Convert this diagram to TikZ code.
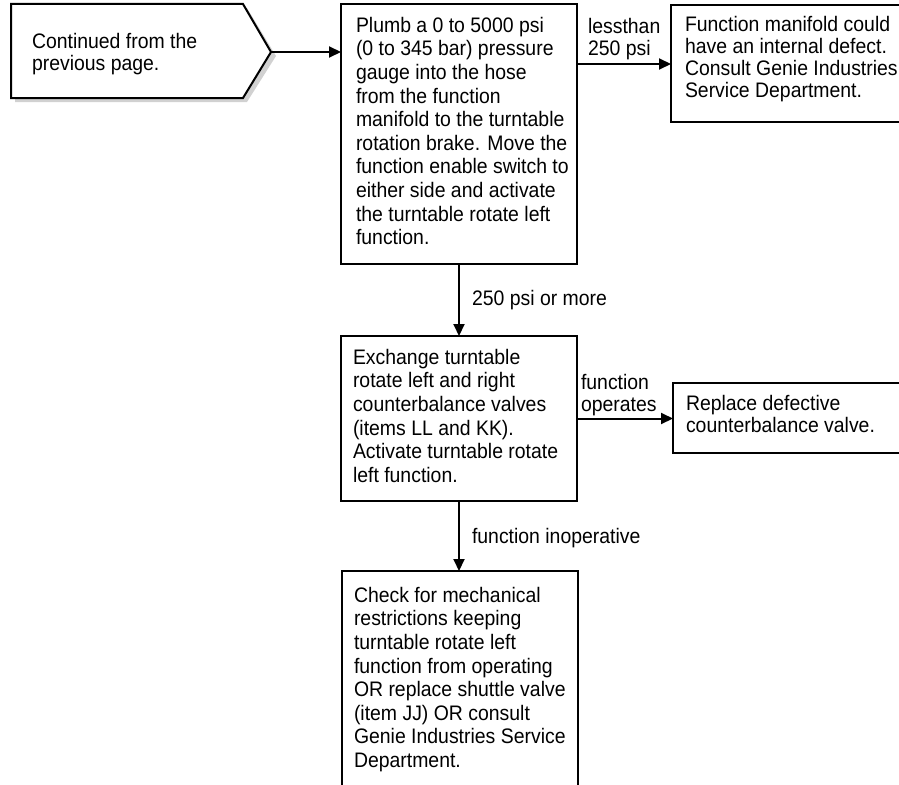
\documentclass[tikz,border=0pt]{standalone}
\usepackage{fontspec}
\setmainfont{Liberation Sans}[FakeStretch=0.925]
\usetikzlibrary{arrows.meta}
\begin{document}
\begin{tikzpicture}[x=1pt,y=-1pt,
  box/.style={draw=black, fill=white, line width=2pt, inner sep=0pt, outer sep=0pt, anchor=north west},
  txt/.style={inner sep=0pt, outer sep=0pt, align=left, font=\fontsize{21}{23.6}\selectfont},
  stxt/.style={inner sep=0pt, outer sep=0pt, align=left, font=\fontsize{21}{22}\selectfont},
  arr/.style={line width=2pt, -{Triangle[length=12pt,width=11pt]}}
]
\clip (0,0) rectangle (899,784);
\useasboundingbox (0,0) rectangle (899,784);

% start pentagon with shadow
\fill[black!18] (15,8) -- (247,8) -- (276,56) -- (247,102) -- (15,102) -- cycle;
\draw[line width=2pt, fill=white, line join=miter] (11,4) -- (243,4) -- (271,52) -- (243,98) -- (11,98) -- cycle;
\coordinate (tip) at (271,52);
\node[stxt, anchor=north west] (starttxt) at (32,33) {Continued from the\\previous page.};

% boxes
\node[box, minimum width=236pt, minimum height=260pt] (main) at (341,4) {};
\node[txt, anchor=north west] (maintxt) at (356,17) {Plumb a 0 to 5000 psi\\(0 to 345 bar) pressure\\gauge into the hose\\from the function\\manifold to the turntable\\rotation brake. Move the\\function enable switch to\\either side and activate\\the turntable rotate left\\function.};

\node[box, minimum width=260pt, minimum height=117pt] (r1) at (671,5) {};
\node[stxt, anchor=north west] (r1txt) at (685,16) {Function manifold could\\have an internal defect.\\Consult Genie Industries\\Service Department.};

\node[box, minimum width=236pt, minimum height=165pt] (b2) at (341,336) {};
\node[txt, anchor=north west] (b2txt) at (353,349) {Exchange turntable\\rotate left and right\\counterbalance valves\\(items LL and KK).\\Activate turntable rotate\\left function.};

\node[box, minimum width=260pt, minimum height=70pt] (r3) at (673,383) {};
\node[stxt, anchor=north west] (r3txt) at (686,395) {Replace defective\\counterbalance valve.};

\node[box, minimum width=236pt, minimum height=230pt] (b4) at (342,571) {};
\node[txt, anchor=north west] (b4txt) at (354,587) {Check for mechanical\\restrictions keeping\\turntable rotate left\\function from operating\\OR replace shuttle valve\\(item JJ) OR consult\\Genie Industries Service\\Department.};

% connectors
\draw[arr] (tip) -- (tip -| main.west);

\coordinate (a1) at ([yshift=-60pt]main.north east);
\draw[arr] (a1) -- (a1 -| r1.west);
\node[stxt, anchor=south west] (l1) at (588,60) {lessthan\\250 psi};

\draw[arr] (main.south) -- (main.south |- b2.north);
\node[stxt, anchor=north west] (l2) at (472,290) {250 psi or more};

\draw[arr] (b2.east) -- (b2.east -| r3.west);
\node[stxt, anchor=south west] (l3) at (581,416) {function\\operates};

\draw[arr] (b2.south) -- (b2.south |- b4.north);
\node[stxt, anchor=north west] (l4) at (472,528) {function inoperative};
\end{tikzpicture}
\end{document}
